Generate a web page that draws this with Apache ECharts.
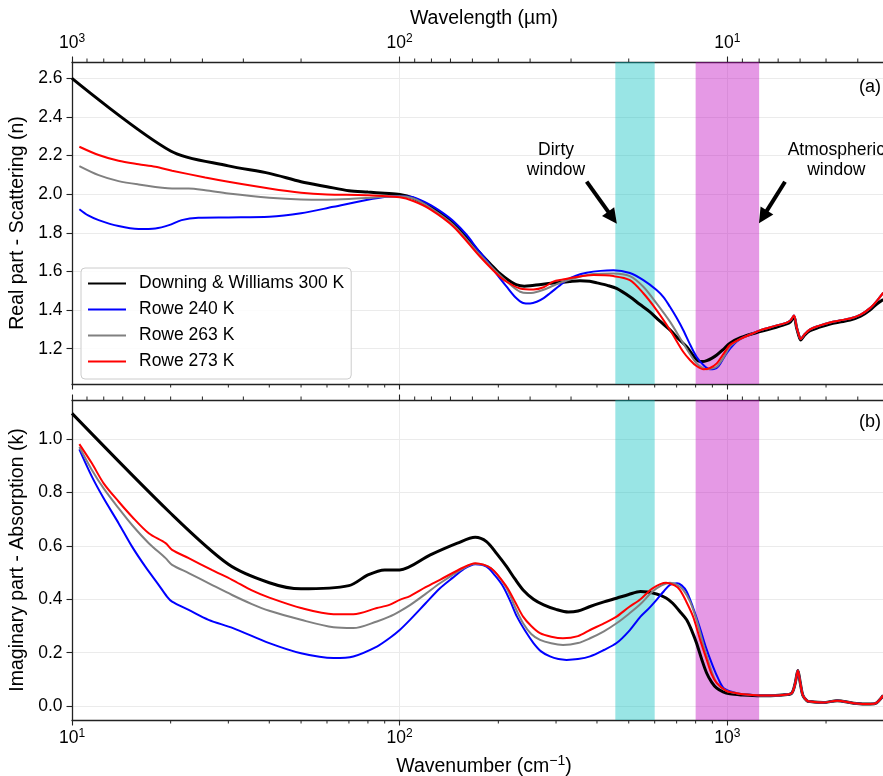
<!DOCTYPE html>
<html>
<head>
<meta charset="utf-8">
<script src="https://cdn.jsdelivr.net/npm/echarts@6/dist/echarts.min.js"></script>
<style>
html, body { margin: 0; padding: 0; background: #fff; }
#chart { width: 883px; height: 776px; }
</style>
</head>
<body>
<div id="chart"></div>
<script>
// optical constants of water/ice vs wavenumber (cm-1)
var NAMES = ['Downing & Williams 300 K', 'Rowe 240 K', 'Rowe 263 K', 'Rowe 273 K'];
var COLORS = ['#000000', '#0000ff', '#808080', '#ff0000'];
var WIDTHS = [3, 2, 2, 2];

var nTicks = [1.2, 1.4, 1.6, 1.8, 2.0, 2.2, 2.4, 2.6];
var kTicks = [0, 0.2, 0.4, 0.6, 0.8, 1.0];
var wnMinor = [20, 30, 40, 50, 60, 70, 80, 90, 200, 300, 400, 500, 600, 700, 800, 900, 2000, 3000];
var wlMinor = [900, 800, 700, 600, 500, 400, 300, 200, 90, 80, 70, 60, 50, 40, 30, 20, 9, 8, 7, 6, 5, 4]; // micron
var dirtyBand = [455, 600];
var atmosBand = [800, 1250];

// ---- real part n ----
var dwRealX = [10, 20, 30, 40, 50, 60, 70, 80, 90, 100, 110, 124, 135, 146, 160, 176, 190, 202, 215, 228,
  240, 250, 270, 300, 330, 355, 380, 400, 430, 459, 504, 540, 580, 620, 668, 710, 751, 790, 815, 840,
  865, 895, 928, 970, 1018, 1100, 1257, 1400, 1517, 1560, 1597, 1625, 1650, 1674, 1720, 1787, 1900, 2057, 2200, 2367,
  2550, 2724, 2850, 2990];
var dwRealY = [2.600, 2.224, 2.147, 2.108, 2.065, 2.039, 2.018, 2.011, 2.005, 1.999, 1.980, 1.935, 1.895, 1.849, 1.775, 1.694, 1.635, 1.590, 1.555, 1.530,
  1.524, 1.526, 1.533, 1.541, 1.548, 1.552, 1.549, 1.541, 1.528, 1.512, 1.469, 1.430, 1.391, 1.345, 1.297, 1.250, 1.210, 1.160, 1.136, 1.133,
  1.138, 1.150, 1.167, 1.195, 1.228, 1.258, 1.288, 1.310, 1.328, 1.340, 1.365, 1.310, 1.270, 1.245, 1.270, 1.293, 1.310, 1.328, 1.338, 1.348,
  1.368, 1.400, 1.430, 1.455];

var r240RealX = [10.53, 11.2, 12.06, 13.87, 15.97, 17.96, 19.77, 21.6, 24.3, 30, 40, 50, 62.8, 79.2, 91, 100, 110, 124,
  135, 146, 160, 172, 184, 198, 212, 225, 238, 250, 262, 275, 287.5, 305, 323, 345, 372, 410, 449, 504,
  554, 608, 640, 668, 700, 733, 770, 805, 845, 885, 910, 940, 994, 1050];
var r240RealY = [1.922, 1.890, 1.866, 1.835, 1.820, 1.823, 1.840, 1.866, 1.878, 1.880, 1.883, 1.901, 1.935, 1.970, 1.987, 1.990, 1.985, 1.945,
  1.905, 1.860, 1.790, 1.720, 1.659, 1.585, 1.521, 1.468, 1.437, 1.434, 1.443, 1.462, 1.487, 1.522, 1.555, 1.578, 1.593, 1.603, 1.606, 1.592,
  1.555, 1.504, 1.465, 1.417, 1.360, 1.297, 1.220, 1.158, 1.115, 1.093, 1.094, 1.110, 1.176, 1.225];

var r263RealX = [10.53, 12.06, 13.87, 15.97, 20.2, 22.7, 25.5, 30, 40, 50, 60, 70, 79, 90, 100, 110, 124, 146, 176, 202,
  220, 233, 245, 256, 275, 295, 315, 350, 390, 449, 504, 554, 608, 668, 733, 770, 805, 840, 865, 900,
  928, 970, 1018, 1060];
var r263RealY = [2.146, 2.099, 2.068, 2.051, 2.030, 2.030, 2.021, 2.004, 1.982, 1.973, 1.972, 1.975, 1.980, 1.987, 1.990, 1.978, 1.930, 1.840, 1.685, 1.580,
  1.525, 1.495, 1.488, 1.490, 1.505, 1.527, 1.547, 1.570, 1.587, 1.590, 1.576, 1.521, 1.435, 1.340, 1.228, 1.170, 1.124, 1.100, 1.093, 1.098,
  1.107, 1.150, 1.210, 1.235];

var r273RealX = [10.53, 12.06, 13.87, 15.97, 17.96, 20.2, 25.5, 30, 40, 50, 60, 79, 100, 110, 124, 146, 176, 202, 218, 233, 256,
  275, 294, 315, 339, 390, 449, 504, 554, 608, 668, 733, 770, 805, 846, 885, 928, 970, 1018, 1060];
var r273RealY = [2.246, 2.203, 2.173, 2.155, 2.142, 2.122, 2.087, 2.065, 2.030, 2.008, 1.999, 1.995, 1.984, 1.965, 1.922, 1.832, 1.676, 1.573, 1.535, 1.512, 1.507,
  1.518, 1.547, 1.558, 1.569, 1.581, 1.576, 1.555, 1.487, 1.400, 1.297, 1.184, 1.140, 1.110, 1.093, 1.100, 1.124, 1.170, 1.219, 1.238];

// the three Rowe curves coincide above ~1100 cm-1
var roweRealTailX = [1100, 1180, 1257, 1400, 1517, 1560, 1597, 1625, 1650, 1674, 1720, 1787, 1900, 2057, 2200, 2367, 2550, 2724, 2850, 2990];
var roweRealTailY = [1.252, 1.275, 1.295, 1.318, 1.335, 1.348, 1.372, 1.315, 1.275, 1.250, 1.275, 1.300, 1.318, 1.336, 1.346, 1.356, 1.376, 1.410, 1.445, 1.490];

// ---- imaginary part k ----
var dwImagX = [10, 20, 30, 40, 50, 70, 80, 90, 100, 124, 150, 170, 184, 198, 212, 225, 238, 256, 275, 300,
  327, 350, 381, 420, 459, 500, 543, 608, 650, 681, 715, 751, 780, 805, 835, 865, 895, 928, 970, 1018,
  1100, 1257, 1400, 1470, 1570, 1610, 1641, 1670, 1700, 1750, 1787, 1960, 2162, 2430, 2730, 2850, 2990];
var dwImagY = [1.096, 0.722, 0.531, 0.462, 0.439, 0.451, 0.491, 0.510, 0.510, 0.566, 0.610, 0.632, 0.616, 0.570, 0.522, 0.475, 0.435, 0.400, 0.379, 0.362,
  0.352, 0.356, 0.373, 0.390, 0.404, 0.418, 0.429, 0.420, 0.405, 0.385, 0.355, 0.323, 0.280, 0.236, 0.175, 0.123, 0.090, 0.067, 0.053, 0.046,
  0.042, 0.0385, 0.040, 0.042, 0.048, 0.085, 0.133, 0.085, 0.040, 0.020, 0.017, 0.0135, 0.020, 0.011, 0.0075, 0.012, 0.040];

var r240ImagX = [10.53, 11.5, 12.49, 13.87, 15.25, 16.74, 18.38, 19.49, 20.2, 22.7, 26.1, 31, 40, 50, 62.8, 72.2, 85.2, 93, 100, 107.5, 120,
  132.7, 145, 156.4, 170, 184, 195, 207, 218, 228, 242, 256, 270, 287.5, 305, 323, 350, 381, 420, 459, 500,
  543, 575, 608, 640, 668, 702, 725, 751, 785, 822, 860, 904, 940, 975, 1053];
var r240ImagY = [0.961, 0.859, 0.778, 0.685, 0.597, 0.522, 0.454, 0.410, 0.391, 0.360, 0.323, 0.292, 0.236, 0.198, 0.180, 0.186, 0.223, 0.254, 0.285, 0.323, 0.385,
  0.441, 0.480, 0.512, 0.531, 0.522, 0.490, 0.447, 0.390, 0.335, 0.280, 0.236, 0.205, 0.186, 0.176, 0.173, 0.176, 0.186, 0.210, 0.236, 0.280,
  0.335, 0.365, 0.398, 0.430, 0.454, 0.460, 0.452, 0.429, 0.370, 0.298, 0.220, 0.148, 0.100, 0.067, 0.050];

var r263ImagX = [10.53, 11.5, 12.49, 13.87, 15.25, 17.15, 19.3, 20.2, 22.7, 26.7, 30.8, 35.4, 40, 50, 62.8, 72.2, 85.2, 93, 100, 107.5, 120, 132.7,
  156.4, 170, 190, 212, 225, 238, 252, 268, 290, 315, 350, 381, 420, 459, 500, 543, 591, 630, 668, 700,
  733, 770, 805, 845, 885, 920, 950, 1000, 1053];
var r263ImagY = [0.970, 0.884, 0.815, 0.741, 0.678, 0.610, 0.554, 0.529, 0.498, 0.454, 0.416, 0.382, 0.357, 0.323, 0.295, 0.292, 0.317, 0.335, 0.355, 0.378, 0.420, 0.460,
  0.516, 0.533, 0.516, 0.441, 0.370, 0.310, 0.270, 0.248, 0.235, 0.229, 0.236, 0.254, 0.280, 0.310, 0.345, 0.382, 0.429, 0.452, 0.462, 0.455,
  0.435, 0.390, 0.323, 0.230, 0.148, 0.095, 0.073, 0.055, 0.050];

var r273ImagX = [10.53, 11.5, 12.49, 13.87, 15.25, 17.15, 19.3, 20.2, 22.7, 26.7, 30.8, 35.4, 40, 50, 62.8, 72.2, 85.2, 93, 100, 107.5, 120,
  132.7, 156.4, 170, 190, 212, 225, 238, 252, 268, 290, 315, 350, 381, 420, 459, 500, 543, 591, 650, 690,
  716, 750, 786, 825, 865, 895, 928, 995, 1053];
var r273ImagY = [0.981, 0.909, 0.834, 0.766, 0.709, 0.647, 0.610, 0.585, 0.554, 0.510, 0.473, 0.433, 0.406, 0.367, 0.344, 0.344, 0.367, 0.379, 0.398, 0.412, 0.445,
  0.473, 0.519, 0.535, 0.516, 0.447, 0.390, 0.335, 0.300, 0.273, 0.260, 0.254, 0.262, 0.285, 0.310, 0.335, 0.370, 0.400, 0.441, 0.462, 0.452,
  0.435, 0.390, 0.335, 0.250, 0.173, 0.120, 0.086, 0.056, 0.050];

var roweImagTailX = [1100, 1257, 1400, 1470, 1570, 1610, 1641, 1670, 1700, 1750, 1787, 1960, 2162, 2430, 2730, 2850, 2990];
var roweImagTailY = [0.045, 0.040, 0.040, 0.042, 0.048, 0.085, 0.133, 0.085, 0.040, 0.020, 0.017, 0.0135, 0.020, 0.011, 0.0075, 0.012, 0.040];

var FONT = "'Liberation Sans', Arial, Helvetica, sans-serif";
var XMIN = 10, XMAX = 3270;
var nMin = 1.017, nMax = 2.685, kMin = -0.052, kMax = 1.146;

function pairs(xs, ys) {
  return xs.map(function (x, i) { return [x, ys[i]]; });
}

function lineSeries(i, grid, xs, ys) {
  return {
    name: NAMES[i], type: 'line', xAxisIndex: grid * 2, yAxisIndex: grid,
    data: pairs(xs, ys), symbol: 'none', showSymbol: false, smooth: 0.3, z: 3,
    lineStyle: { color: COLORS[i], width: WIDTHS[i] }, itemStyle: { color: COLORS[i] },
    silent: true
  };
}

// shaded windows (+ annotations on top panel)
function bandSeries(grid) {
  var s = {
    type: 'line', xAxisIndex: grid * 2, yAxisIndex: grid, data: [], z: 1, silent: true,
    markArea: {
      silent: true,
      data: [
        [{ xAxis: dirtyBand[0], itemStyle: { color: 'rgba(0,191,191,0.4)' } }, { xAxis: dirtyBand[1] }],
        [{ xAxis: atmosBand[0], itemStyle: { color: 'rgba(191,0,191,0.4)' } }, { xAxis: atmosBand[1] }]
      ]
    }
  };
  if (grid === 0) {
    s.markLine = {
      silent: true, symbol: ['none', 'triangle'], symbolSize: 15,
      label: { show: false },
      lineStyle: { color: '#000', width: 4, type: 'solid' },
      data: [
        [{ coord: [372, 2.065] }, { coord: [446, 1.879] }],
        [{ coord: [1499, 2.065] }, { coord: [1284, 1.883] }]
      ]
    };
    s.markPoint = {
      silent: true, symbol: 'circle', symbolSize: 1, itemStyle: { color: 'rgba(0,0,0,0)' },
      label: { show: true, position: 'inside', formatter: '{b}', color: '#000', fontSize: 17.5, lineHeight: 20, fontFamily: FONT },
      data: [
        { name: 'Dirty\nwindow', coord: [300, 2.177] },
        { name: 'Atmospheric\nwindow', coord: [2150, 2.177] }
      ]
    };
  }
  return s;
}

// minor ticks drawn at axis edges through the axis scales
function tickSeries(grid, xVals, yVal, dir, len) {
  return {
    type: 'custom', xAxisIndex: grid * 2, yAxisIndex: grid, silent: true, z: 6, clip: false,
    data: xVals.map(function (v) { return [v, yVal]; }),
    renderItem: function (params, api) {
      var p = api.coord([api.value(0), api.value(1)]);
      return {
        type: 'line',
        shape: { x1: p[0], y1: p[1], x2: p[0], y2: p[1] + dir * len },
        style: { stroke: '#222', lineWidth: 1 }
      };
    }
  };
}

function isPow10(v) {
  var l = Math.log(v) / Math.LN10;
  return Math.abs(l - Math.round(l)) < 1e-6;
}

function xAxisDef(grid, pos, wavelength, showLabels, name, nameGap) {
  var ax = {
    type: 'log', logBase: 10, gridIndex: grid, position: pos, min: XMIN, max: XMAX,
    axisLine: { show: true, onZero: false, lineStyle: { color: '#222', width: 1.3 } },
    axisTick: { show: true, inside: false, length: 5.5, lineStyle: { color: '#222', width: 1.1 } },
    axisLabel: {
      show: showLabels, margin: 8, fontSize: 17.5, lineHeight: 21, color: '#000', fontFamily: FONT,
      showMaxLabel: false,
      formatter: function (v) {
        if (!isPow10(v)) return '';
        var e = Math.round(Math.log(wavelength ? 10000 / v : v) / Math.LN10);
        return '10{sup|' + e + '}';
      },
      rich: { sup: { fontSize: 12, lineHeight: 12, verticalAlign: 'top', color: '#000', fontFamily: FONT } }
    },
    splitLine: { show: pos === 'bottom', lineStyle: { color: '#ebebeb', width: 1 } },
    minorTick: { show: false }
  };
  if (name) {
    ax.name = name;
    ax.nameLocation = 'middle';
    ax.nameGap = nameGap;
    ax.nameTextStyle = {
      fontSize: 19.5, color: '#000', fontFamily: FONT, lineHeight: 25,
      rich: { sup: { fontSize: 14, lineHeight: 14, verticalAlign: 'top', color: '#000', fontFamily: FONT } }
    };
  }
  return ax;
}

function yAxisDef(grid, min, max, ticks, name) {
  return {
    type: 'value', gridIndex: grid, min: min, max: max,
    name: name, nameLocation: 'middle', nameGap: 40,
    nameTextStyle: { fontSize: 19.5, color: '#000', fontFamily: FONT },
    axisLine: { show: true, onZero: false, lineStyle: { color: '#222', width: 1.3 } },
    axisTick: { show: true, inside: false, length: 5.5, customValues: ticks, lineStyle: { color: '#222', width: 1.1 } },
    axisLabel: {
      customValues: ticks, margin: 9.5, fontSize: 17.5, color: '#000', fontFamily: FONT,
      formatter: function (v) { return v.toFixed(1); }
    },
    splitLine: { show: true, lineStyle: { color: '#ebebeb', width: 1 } }
  };
}

var wlMinorWn = wlMinor.map(function (w) { return 10000 / w; });

var series = [
  bandSeries(0), bandSeries(1),
  lineSeries(0, 0, dwRealX, dwRealY),
  lineSeries(1, 0, r240RealX.concat(roweRealTailX), r240RealY.concat(roweRealTailY)),
  lineSeries(2, 0, r263RealX.concat(roweRealTailX), r263RealY.concat(roweRealTailY)),
  lineSeries(3, 0, r273RealX.concat(roweRealTailX), r273RealY.concat(roweRealTailY)),
  lineSeries(0, 1, dwImagX, dwImagY),
  lineSeries(1, 1, r240ImagX.concat(roweImagTailX), r240ImagY.concat(roweImagTailY)),
  lineSeries(2, 1, r263ImagX.concat(roweImagTailX), r263ImagY.concat(roweImagTailY)),
  lineSeries(3, 1, r273ImagX.concat(roweImagTailX), r273ImagY.concat(roweImagTailY)),
  tickSeries(0, wnMinor, nMin, 1, 3.5),
  tickSeries(0, wlMinorWn, nMax, -1, 3.5),
  tickSeries(1, wnMinor, kMin, 1, 3.5),
  tickSeries(1, wlMinorWn, kMax, -1, 3.5)
];

var chart = echarts.init(document.getElementById('chart'), null, { renderer: 'canvas' });
chart.setOption({
  animation: false,
  backgroundColor: '#ffffff',
  textStyle: { fontFamily: FONT },
  grid: [
    { left: 72, top: 62, width: 824, height: 322, outerBoundsMode: 'none', containLabel: false },
    { left: 72, top: 400, width: 824, height: 320, outerBoundsMode: 'none', containLabel: false }
  ],
  xAxis: [
    xAxisDef(0, 'bottom', false, false),
    xAxisDef(0, 'top', true, true, 'Wavelength (\u00b5m)', 31),
    xAxisDef(1, 'bottom', false, true, 'Wavenumber (cm{sup|\u22121})', 34),
    xAxisDef(1, 'top', true, false)
  ],
  yAxis: [
    yAxisDef(0, nMin, nMax, nTicks, 'Real part - Scattering (n)'),
    yAxisDef(1, kMin, kMax, kTicks, 'Imaginary part - Absorption (k)')
  ],
  legend: {
    data: NAMES, orient: 'vertical', left: 81, top: 268,
    itemWidth: 38, itemHeight: 17, itemGap: 8, padding: [6.5, 7, 8.5, 6],
    backgroundColor: 'rgba(255,255,255,0.85)', borderColor: '#cccccc', borderWidth: 1, borderRadius: 4,
    selectedMode: false,
    itemStyle: { opacity: 0 },
    textStyle: { fontSize: 17.5, color: '#000', fontFamily: FONT, padding: [0, 0, 0, 8] }
  },
  graphic: [
    { type: 'text', right: 2, top: 78, style: { text: '(a)', fontSize: 18, fill: '#000', fontFamily: FONT } },
    { type: 'text', right: 2, top: 413, style: { text: '(b)', fontSize: 18, fill: '#000', fontFamily: FONT } }
  ],
  series: series
});
</script>
</body>
</html>
